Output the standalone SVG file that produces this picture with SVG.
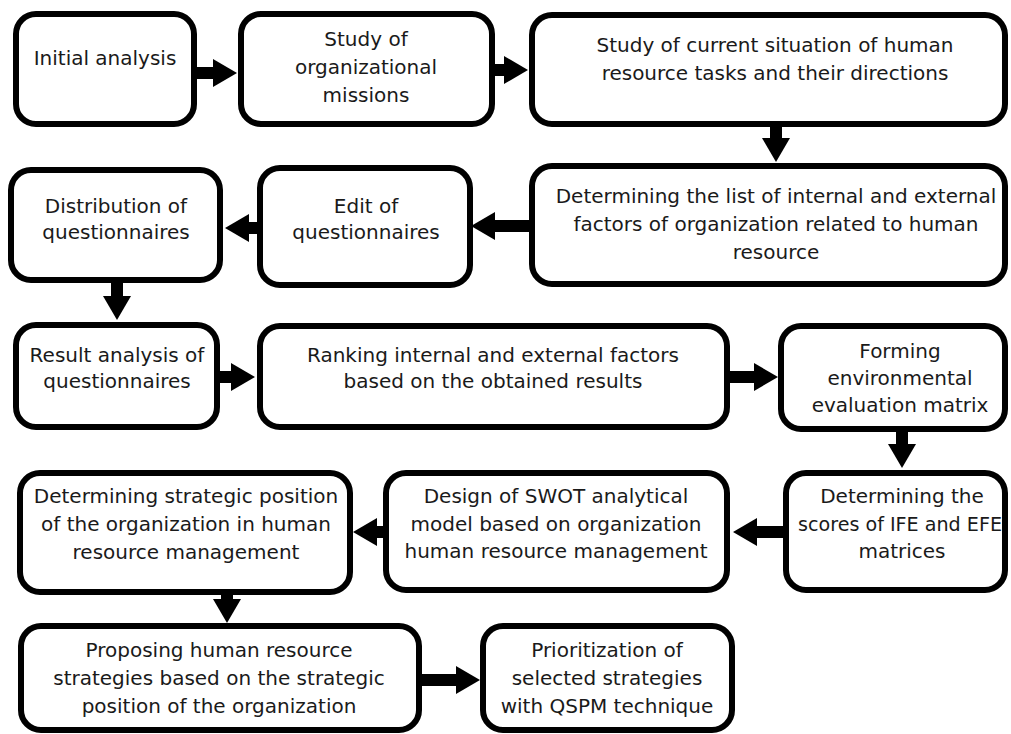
<svg xmlns="http://www.w3.org/2000/svg" width="1011" height="734" viewBox="0 0 1011 734">
<style>
.box{fill:#fff;stroke:#000;stroke-width:6}
.t{font-family:"DejaVu Sans","Liberation Sans",sans-serif;font-size:20px;fill:#1a1a1a;text-anchor:middle}
.c{stroke:#000;stroke-width:12;fill:none;marker-end:url(#ah)}
</style>
<defs>
<marker id="ah" markerUnits="userSpaceOnUse" markerWidth="24" markerHeight="28" refX="0" refY="14" orient="auto" viewBox="0 0 24 28">
<path d="M0,0 L24,14 L0,28 z" fill="#000"/>
</marker>
</defs>
<rect width="1011" height="734" fill="#fff"/>
<g id="connectors">
<line class="c" x1="197" y1="73" x2="213" y2="73"/>
<line class="c" x1="495" y1="70" x2="504" y2="70"/>
<line class="c" x1="776" y1="127" x2="776" y2="138"/>
<line class="c" x1="529" y1="226" x2="495" y2="226"/>
<line class="c" x1="257" y1="228" x2="249" y2="228"/>
<line class="c" x1="117" y1="283" x2="117" y2="296"/>
<line class="c" x1="220" y1="377" x2="231" y2="377"/>
<line class="c" x1="730" y1="377" x2="754" y2="377"/>
<line class="c" x1="902" y1="432" x2="902" y2="444"/>
<line class="c" x1="783" y1="532" x2="757" y2="532"/>
<line class="c" x1="383" y1="532" x2="377" y2="532"/>
<line class="c" x1="227" y1="595" x2="227" y2="599"/>
<line class="c" x1="422" y1="680" x2="456" y2="680"/>
</g>
<g id="n1"><rect class="box" x="16" y="14" width="178" height="110" rx="20"/>
<text class="t" x="105" y="65">Initial analysis</text></g>
<g id="n2"><rect class="box" x="241" y="14" width="251" height="110" rx="20"/>
<text class="t" x="366" y="46">Study of</text><text class="t" x="366" y="74">organizational</text><text class="t" x="366" y="102">missions</text></g>
<g id="n3"><rect class="box" x="532" y="15" width="473" height="109" rx="20"/>
<text class="t" x="775" y="52">Study of current situation of human</text><text class="t" x="775" y="80">resource tasks and their directions</text></g>
<g id="n4"><rect class="box" x="532" y="166" width="473" height="118" rx="20"/>
<text class="t" x="776" y="203">Determining the list of internal and external</text><text class="t" x="776" y="231">factors of organization related to human</text><text class="t" x="776" y="259">resource</text></g>
<g id="n5"><rect class="box" x="260" y="168" width="210" height="117" rx="20"/>
<text class="t" x="366" y="213">Edit of</text><text class="t" x="366" y="239">questionnaires</text></g>
<g id="n6"><rect class="box" x="11" y="170" width="209" height="110" rx="20"/>
<text class="t" x="116" y="213">Distribution of</text><text class="t" x="116" y="239">questionnaires</text></g>
<g id="n7"><rect class="box" x="16" y="325" width="201" height="102" rx="20"/>
<text class="t" x="117" y="362">Result analysis of</text><text class="t" x="117" y="388">questionnaires</text></g>
<g id="n8"><rect class="box" x="260" y="326" width="467" height="101" rx="20"/>
<text class="t" x="493" y="362">Ranking internal and external factors</text><text class="t" x="493" y="388">based on the obtained results</text></g>
<g id="n9"><rect class="box" x="781" y="326" width="224" height="103" rx="20"/>
<text class="t" x="900" y="358">Forming</text><text class="t" x="900" y="385">environmental</text><text class="t" x="900" y="412">evaluation matrix</text></g>
<g id="n10"><rect class="box" x="786" y="473" width="219" height="117" rx="20"/>
<text class="t" x="902" y="503">Determining the</text><text class="t" x="900" y="531" textLength="204" lengthAdjust="spacingAndGlyphs">scores of IFE and EFE</text><text class="t" x="902" y="558">matrices</text></g>
<g id="n11"><rect class="box" x="386" y="473" width="341" height="117" rx="20"/>
<text class="t" x="556" y="503">Design of SWOT analytical</text><text class="t" x="556" y="531">model based on organization</text><text class="t" x="556" y="558">human resource management</text></g>
<g id="n12"><rect class="box" x="20" y="473" width="330" height="119" rx="20"/>
<text class="t" x="186" y="503">Determining strategic position</text><text class="t" x="186" y="531">of the organization in human</text><text class="t" x="186" y="559">resource management</text></g>
<g id="n13"><rect class="box" x="21" y="626" width="398" height="104" rx="20"/>
<text class="t" x="219" y="657">Proposing human resource</text><text class="t" x="219" y="685">strategies based on the strategic</text><text class="t" x="219" y="713">position of the organization</text></g>
<g id="n14"><rect class="box" x="483" y="626" width="249" height="104" rx="20"/>
<text class="t" x="607" y="657">Prioritization of</text><text class="t" x="607" y="685">selected strategies</text><text class="t" x="607" y="713">with QSPM technique</text></g>
</svg>
